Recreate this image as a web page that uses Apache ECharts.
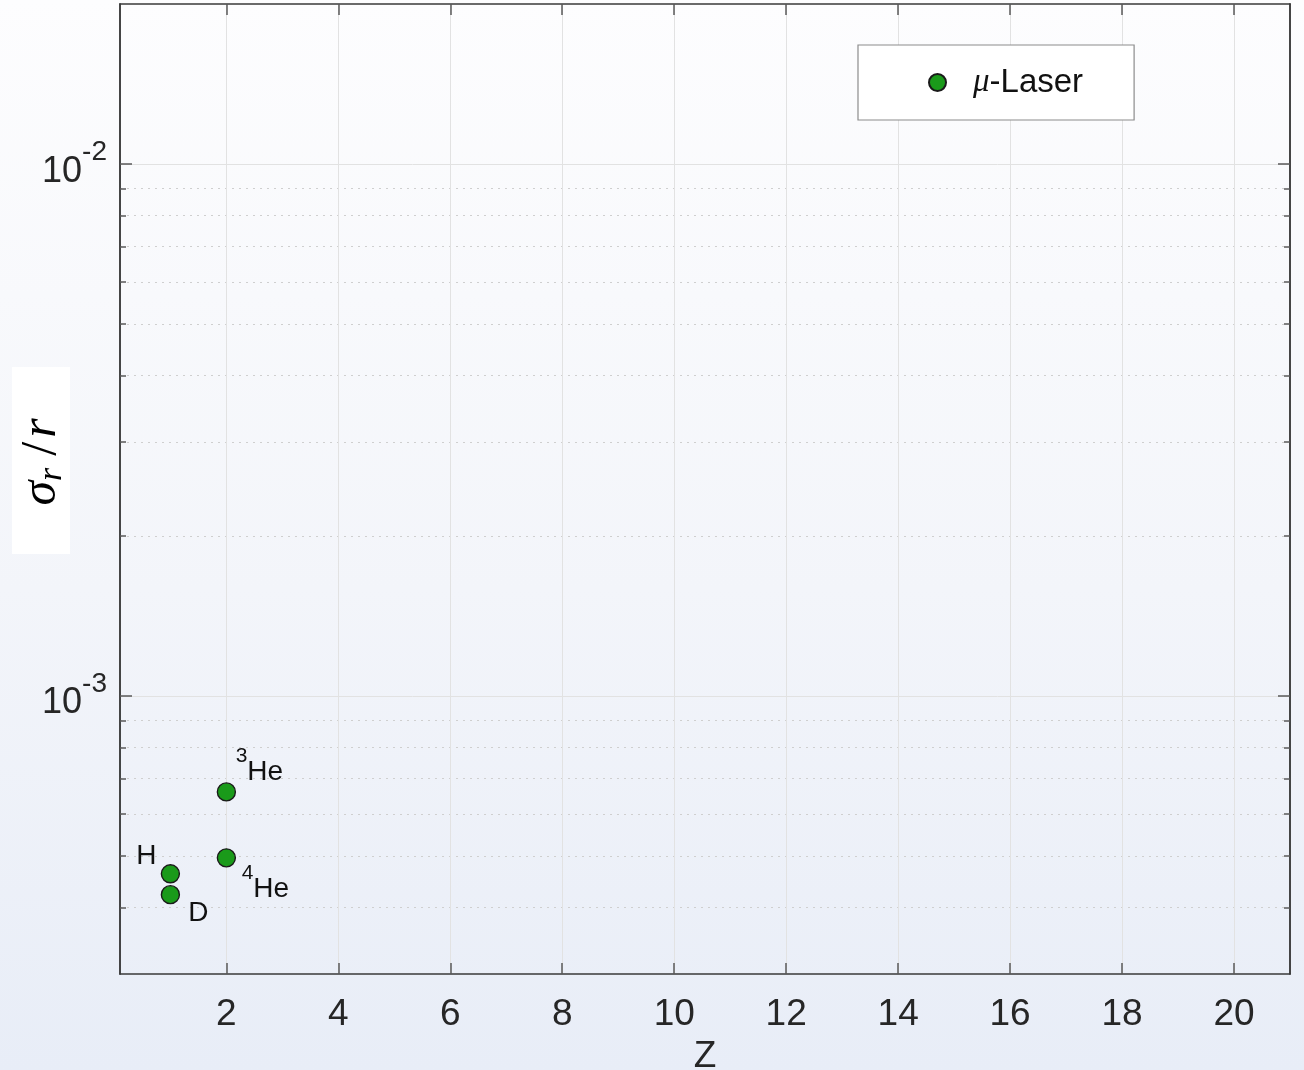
<!DOCTYPE html>
<html>
<head>
<meta charset="utf-8">
<script src="https://cdn.jsdelivr.net/npm/echarts@6/dist/echarts.min.js"></script>
<style>
  html, body { margin: 0; padding: 0; }
  body {
    width: 1304px; height: 1070px;
    background: linear-gradient(to bottom, #fdfdfe 0%, #f3f5fa 55%, #e8edf7 100%);
  }
  #chart { width: 1304px; height: 1070px; }
</style>
</head>
<body>
<div id="chart"></div>
<script>
// Relative charge-radius uncertainty from muonic-atom laser spectroscopy
const nuclei = ['H', 'D', '3He', '4He'];
const chargeZ = [1, 1, 2, 2];
const relUncertainty = [4.63e-4, 4.23e-4, 6.60e-4, 4.96e-4];

const seriesName = 'μ-Laser';

// Axis ranges and tick positions
const xRange = [0.1, 21];
const yRange = [3e-4, 2e-2];
const xTicks = [2, 4, 6, 8, 10, 12, 14, 16, 18, 20];
const yMajorTicks = [1e-3, 1e-2];
const yMinorTicks = [4e-4, 5e-4, 6e-4, 7e-4, 8e-4, 9e-4,
                     2e-3, 3e-3, 4e-3, 5e-3, 6e-3, 7e-3, 8e-3, 9e-3];

// Where each nucleus label sits relative to its marker
const labelOffset = {
  'H':   [-24, -17],
  'D':   [28, 19],
  '3He': [33, -26],
  '4He': [39, 25]
};

function nucleusLabel(name) {
  const m = /^(\d+)(\D+)$/.exec(name);
  return m ? '{sup|' + m[1] + '}{b|' + m[2] + '}' : '{p|' + name + '}';
}

function powerLabel(v) {
  const e = Math.round(Math.log10(v));
  return '{b|10}{sup|' + e + '}';
}

const FONT = '"Liberation Sans", Arial, sans-serif';
const MATH = '"Liberation Serif", "DejaVu Serif", serif';
const INK = '#111111';
const axisLineStyle = { color: '#3a3a3a', width: 1.5 };
const tickStyle = { color: '#5a5a5a', width: 1.5 };

const points = nuclei.map((n, i) => ({
  name: n,
  value: [chargeZ[i], relUncertainty[i]],
  label: { offset: labelOffset[n] }
}));

function xAxisDef(pos, withLabels) {
  return {
    type: 'value',
    position: pos,
    min: xRange[0], max: xRange[1],
    axisLine: { show: true, onZero: false, lineStyle: axisLineStyle },
    axisTick: { show: true, inside: true, length: 11, lineStyle: tickStyle, customValues: xTicks },
    axisLabel: {
      show: withLabels, customValues: xTicks, margin: 22,
      fontFamily: FONT, fontSize: 37, color: '#262626'
    },
    splitLine: { show: withLabels, lineStyle: { color: '#e2e2e2', width: 1 } },
    name: withLabels ? 'Z' : '',
    nameLocation: 'middle',
    nameGap: 58,
    nameTextStyle: { fontFamily: FONT, fontSize: 37, color: '#262626' }
  };
}

function yAxisDef(pos, major, withLabels) {
  const ticks = major ? yMajorTicks : yMinorTicks;
  return {
    type: 'log',
    position: pos,
    min: yRange[0], max: yRange[1],
    axisLine: { show: true, onZero: false, lineStyle: axisLineStyle },
    axisTick: { show: true, inside: true, length: major ? 12 : 6, lineStyle: tickStyle, customValues: ticks },
    axisLabel: {
      show: withLabels, customValues: ticks, margin: 13,
      formatter: powerLabel,
      rich: {
        b: { fontFamily: FONT, fontSize: 36, color: '#262626', padding: [15, 0, 0, 0], verticalAlign: 'bottom' },
        sup: { fontFamily: FONT, fontSize: 28, color: '#262626', verticalAlign: 'top' }
      }
    },
    splitLine: {
      show: pos === 'left',
      lineStyle: major
        ? { color: '#e2e2e2', width: 1 }
        : { color: '#cfcfcf', width: 1, type: [2, 5] }
    }
  };
}

const chart = echarts.init(document.getElementById('chart'), null, { renderer: 'canvas' });

chart.setOption({
  backgroundColor: 'transparent',
  animation: false,
  grid: { left: 120, top: 4, width: 1170, height: 970, outerBoundsMode: 'none', containLabel: false },
  xAxis: [xAxisDef('bottom', true), xAxisDef('top', false)],
  yAxis: [
    yAxisDef('left', true, true),
    yAxisDef('left', false, false),
    yAxisDef('right', true, false),
    yAxisDef('right', false, false)
  ],
  legend: {
    left: 858, top: 45,
    data: [seriesName],
    icon: 'circle',
    itemWidth: 17, itemHeight: 17,
    backgroundColor: '#ffffff',
    borderColor: '#8c8c8c', borderWidth: 1.2, borderRadius: 0,
    padding: [21, 51, 21, 70],
    formatter: () => '{m|μ}{t|-Laser}',
    textStyle: {
      rich: {
        m: { fontFamily: MATH, fontStyle: 'italic', fontSize: 33, color: INK, padding: [0, 0, 0, 22] },
        t: { fontFamily: FONT, fontSize: 33, color: INK }
      }
    }
  },
  graphic: [{
    type: 'group',
    left: 12, top: 367,
    children: [
      { type: 'rect', shape: { x: 0, y: 0, width: 58, height: 187 }, style: { fill: '#ffffff' } },
      {
        type: 'text', x: 30, y: 95, rotation: Math.PI / 2,
        style: {
          text: '{i|σ}{s|r}{n|/}{i|r}',
          align: 'center', verticalAlign: 'middle',
          rich: {
            i: { fontFamily: MATH, fontStyle: 'italic', fontSize: 50, color: INK },
            s: { fontFamily: MATH, fontStyle: 'italic', fontSize: 34, color: INK, padding: [20, 12, 0, 0] },
            n: { fontFamily: MATH, fontSize: 50, color: INK, padding: [0, 4, 0, 0] }
          }
        }
      }
    ]
  }],
  series: [{
    name: seriesName,
    type: 'scatter',
    xAxisIndex: 0, yAxisIndex: 0,
    symbol: 'circle',
    symbolSize: 18,
    itemStyle: { color: '#1a9a1a', borderColor: '#1a1a1a', borderWidth: 1.4, opacity: 1 },
    label: {
      show: true,
      position: 'inside',
      align: 'center', verticalAlign: 'middle',
      color: INK,
      formatter: p => nucleusLabel(p.name),
      rich: {
        p: { fontFamily: FONT, fontSize: 28, color: INK },
        b: { fontFamily: FONT, fontSize: 28, color: INK, padding: [12, 0, 0, 0], verticalAlign: 'bottom' },
        sup: { fontFamily: FONT, fontSize: 21, color: INK, verticalAlign: 'top' }
      }
    },
    emphasis: { disabled: true },
    data: points
  }]
});
</script>
</body>
</html>
